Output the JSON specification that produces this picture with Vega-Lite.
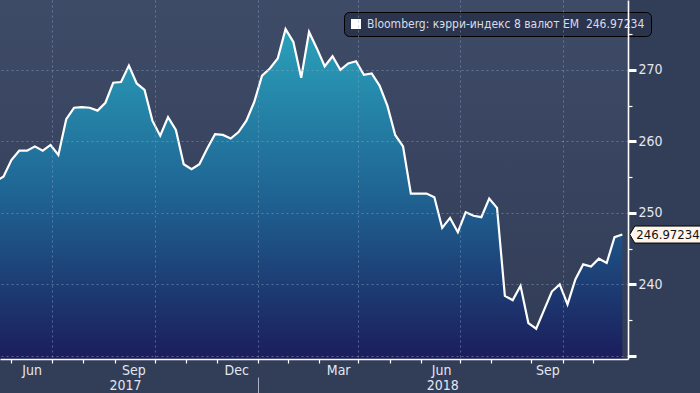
{
  "$schema": "https://vega.github.io/schema/vega-lite/v6.json",
  "width": 628,
  "height": 359,
  "autosize": "none",
  "padding": {"left": 0, "top": 0, "right": 72, "bottom": 34},
  "background": "#323d57",
  "config": {
    "font": "DejaVu Sans Condensed, Liberation Sans, sans-serif",
    "view": {
      "stroke": null,
      "fill": {"gradient": "linear", "x1": 0, "y1": 0, "x2": 0, "y2": 1,
        "stops": [{"offset": 0, "color": "#3e4b67"}, {"offset": 1, "color": "#323c57"}]}
    },
    "axis": {"labelFont": "DejaVu Sans Condensed, Liberation Sans, sans-serif", "labelFontSize": 14, "labelColor": "#e3e7ef", "title": null}
  },
  "datasets": {
    "series": [
      {"date": "2017-05-12", "value": 254.4},
      {"date": "2017-05-19", "value": 255.1},
      {"date": "2017-05-26", "value": 257.4},
      {"date": "2017-06-02", "value": 258.7},
      {"date": "2017-06-09", "value": 258.7},
      {"date": "2017-06-16", "value": 259.3},
      {"date": "2017-06-23", "value": 258.7},
      {"date": "2017-06-30", "value": 259.5},
      {"date": "2017-07-07", "value": 258.1},
      {"date": "2017-07-14", "value": 263.1},
      {"date": "2017-07-21", "value": 264.7},
      {"date": "2017-07-28", "value": 264.8},
      {"date": "2017-08-04", "value": 264.7},
      {"date": "2017-08-11", "value": 264.3},
      {"date": "2017-08-18", "value": 265.4},
      {"date": "2017-08-25", "value": 268.2},
      {"date": "2017-09-01", "value": 268.3},
      {"date": "2017-09-08", "value": 270.6},
      {"date": "2017-09-15", "value": 268.1},
      {"date": "2017-09-22", "value": 267.2},
      {"date": "2017-09-29", "value": 262.9},
      {"date": "2017-10-06", "value": 260.8},
      {"date": "2017-10-13", "value": 263.4},
      {"date": "2017-10-20", "value": 261.6},
      {"date": "2017-10-27", "value": 256.8},
      {"date": "2017-11-03", "value": 256.1},
      {"date": "2017-11-10", "value": 256.8},
      {"date": "2017-11-17", "value": 259.0},
      {"date": "2017-11-24", "value": 261.0},
      {"date": "2017-12-01", "value": 260.9},
      {"date": "2017-12-08", "value": 260.4},
      {"date": "2017-12-15", "value": 261.3},
      {"date": "2017-12-22", "value": 262.9},
      {"date": "2017-12-29", "value": 265.5},
      {"date": "2018-01-05", "value": 269.2},
      {"date": "2018-01-12", "value": 270.2},
      {"date": "2018-01-19", "value": 271.6},
      {"date": "2018-01-26", "value": 275.7},
      {"date": "2018-02-02", "value": 273.9},
      {"date": "2018-02-09", "value": 268.9},
      {"date": "2018-02-16", "value": 275.3},
      {"date": "2018-02-23", "value": 273.0},
      {"date": "2018-03-02", "value": 270.5},
      {"date": "2018-03-09", "value": 271.9},
      {"date": "2018-03-16", "value": 270.0},
      {"date": "2018-03-23", "value": 270.9},
      {"date": "2018-03-30", "value": 271.2},
      {"date": "2018-04-06", "value": 269.3},
      {"date": "2018-04-13", "value": 269.5},
      {"date": "2018-04-20", "value": 267.8},
      {"date": "2018-04-27", "value": 265.0},
      {"date": "2018-05-04", "value": 260.9},
      {"date": "2018-05-11", "value": 259.3},
      {"date": "2018-05-18", "value": 252.7},
      {"date": "2018-05-25", "value": 252.7},
      {"date": "2018-06-01", "value": 252.7},
      {"date": "2018-06-08", "value": 252.2},
      {"date": "2018-06-15", "value": 247.9},
      {"date": "2018-06-22", "value": 249.3},
      {"date": "2018-06-29", "value": 247.3},
      {"date": "2018-07-06", "value": 250.1},
      {"date": "2018-07-13", "value": 249.6},
      {"date": "2018-07-20", "value": 249.4},
      {"date": "2018-07-27", "value": 252.0},
      {"date": "2018-08-03", "value": 250.7},
      {"date": "2018-08-10", "value": 238.4},
      {"date": "2018-08-17", "value": 237.8},
      {"date": "2018-08-24", "value": 239.8},
      {"date": "2018-08-31", "value": 234.6},
      {"date": "2018-09-07", "value": 233.8},
      {"date": "2018-09-14", "value": 236.4},
      {"date": "2018-09-21", "value": 239.0},
      {"date": "2018-09-28", "value": 240.0},
      {"date": "2018-10-05", "value": 237.2},
      {"date": "2018-10-12", "value": 240.7},
      {"date": "2018-10-19", "value": 242.8},
      {"date": "2018-10-26", "value": 242.5},
      {"date": "2018-11-02", "value": 243.6},
      {"date": "2018-11-09", "value": 243.0},
      {"date": "2018-11-16", "value": 246.6},
      {"date": "2018-11-23", "value": 246.97234}
    ],
    "last": [
      {"date": "2018-11-23", "value": 246.97234, "label": "246.97234"}
    ]
  },
  "layer": [
    {
      "data": {"name": "series"},
      "mark": {
        "type": "area", "clip": true,
        "fill": {"gradient": "linear", "x1": 0, "y1": 0, "x2": 0, "y2": 1,
          "stops": [
            {"offset": 0, "color": "#2aa1ba"},
            {"offset": 0.5, "color": "#1f6493"},
            {"offset": 1, "color": "#1b1d5b"}
          ]}
      },
      "encoding": {
        "x": {
          "field": "date", "type": "temporal",
          "scale": {"type": "utc", "domain": [
            {"year": 2017, "month": 5, "date": 15, "hours": 19, "minutes": 40, "utc": true},
            {"year": 2018, "month": 11, "date": 28, "hours": 1, "utc": true}
          ]},
          "axis": {
            "orient": "bottom",
            "values": [
              {"year": 2017, "month": 5, "date": 26, "utc": true},
              {"year": 2017, "month": 7, "date": 1, "utc": true},
              {"year": 2017, "month": 7, "date": 29, "utc": true},
              {"year": 2017, "month": 8, "date": 27, "utc": true},
              {"year": 2017, "month": 10, "date": 1, "utc": true},
              {"year": 2017, "month": 10, "date": 29, "utc": true},
              {"year": 2017, "month": 11, "date": 26, "utc": true},
              {"year": 2018, "month": 1, "date": 1, "utc": true},
              {"year": 2018, "month": 1, "date": 28, "utc": true},
              {"year": 2018, "month": 2, "date": 25, "utc": true},
              {"year": 2018, "month": 4, "date": 1, "utc": true},
              {"year": 2018, "month": 4, "date": 29, "utc": true},
              {"year": 2018, "month": 5, "date": 27, "utc": true},
              {"year": 2018, "month": 7, "date": 1, "utc": true},
              {"year": 2018, "month": 7, "date": 29, "utc": true},
              {"year": 2018, "month": 9, "date": 2, "utc": true},
              {"year": 2018, "month": 10, "date": 1, "utc": true},
              {"year": 2018, "month": 10, "date": 28, "utc": true}
            ],
            "labels": false,
            "ticks": true, "tickSize": 4, "tickColor": "#ffffff", "tickWidth": 1.2,
            "domain": true, "domainColor": "#ffffff", "domainWidth": 1.6,
            "grid": true, "gridColor": "#8fa3c8", "gridDash": [2, 3], "gridWidth": 1,
            "gridOpacity": {"condition": {"test": "utcdate(datum.value) == 1 && utcmonth(datum.value) % 3 == 0", "value": 0.5}, "value": 0},
            "zindex": 1
          }
        },
        "y": {
          "field": "value", "type": "quantitative",
          "scale": {"domain": [229.57, 279.77], "nice": false, "zero": false},
          "axis": {
            "orient": "right",
            "values": [230, 235, 240, 245, 250, 255, 260, 265, 270, 275],
            "domainColor": "#ffffff", "domainWidth": 1.6,
            "tickColor": "#ffffff",
            "tickSize": {"condition": {"test": "datum.value % 10 == 0", "value": 8}, "value": 4},
            "tickWidth": {"condition": {"test": "datum.value % 10 == 0", "value": 3}, "value": 1.2},
            "labelExpr": "datum.value >= 240 && datum.value <= 270 && datum.value % 10 == 0 ? datum.value : ''",
            "labelPadding": 2, "labelBaseline": "middle",
            "grid": true, "gridColor": "#8fa3c8", "gridDash": [2, 3], "gridWidth": 1,
            "gridOpacity": {"condition": {"test": "datum.value % 10 == 0", "value": 0.5}, "value": 0},
            "zindex": 1
          }
        },
        "y2": {"datum": 229.57}
      }
    },
    {
      "data": {"name": "series"},
      "mark": {"type": "line", "clip": true, "strokeWidth": 2.2},
      "encoding": {
        "x": {
          "field": "date", "type": "temporal",
          "axis": {
            "orient": "bottom",
            "values": [
              {"year": 2017, "month": 6, "date": 13, "utc": true},
              {"year": 2017, "month": 9, "date": 12, "utc": true},
              {"year": 2017, "month": 12, "date": 13, "utc": true},
              {"year": 2018, "month": 3, "date": 14, "utc": true},
              {"year": 2018, "month": 6, "date": 14, "utc": true},
              {"year": 2018, "month": 9, "date": 17, "utc": true}
            ],
            "format": "%b",
            "ticks": false, "domain": false, "grid": false,
            "labelPadding": 4
          }
        },
        "y": {"field": "value", "type": "quantitative", "axis": null},
        "color": {
          "datum": "Bloomberg: кэрри-индекс 8 валют EM\u00a0\u00a0246.97234",
          "scale": {"range": ["#ffffff"]},
          "legend": {
            "orient": "none", "legendX": 344, "legendY": 12,
            "title": null,
            "fillColor": "#2b344d", "strokeColor": "#000000", "cornerRadius": 5,
            "padding": 6,
            "symbolType": "square", "symbolSize": 100,
            "symbolFillColor": "#ffffff", "symbolStrokeColor": "#ffffff",
            "labelColor": "#d8dde7", "labelFont": "DejaVu Sans Condensed, Liberation Sans, sans-serif", "labelFontSize": 12,
            "labelLimit": 0, "labelOffset": 5,
            "encode": {"symbols": {"update": {"fill": {"value": "#ffffff"}, "stroke": {"value": "#ffffff"}, "strokeWidth": {"value": 0}}}}
          }
        }
      }
    },
    {
      "data": {"name": "last"},
      "mark": {
        "type": "point", "filled": true, "clip": false,
        "shape": "M0.74,0L1.24,-0.85L9,-0.85L9,0.85L1.24,0.85Z",
        "size": 400, "fill": "#fff5ec", "stroke": "#000000", "strokeWidth": 1, "opacity": 1
      },
      "encoding": {
        "x": {
          "field": "date", "type": "temporal",
          "axis": {
            "orient": "bottom",
            "values": [
              {"year": 2017, "month": 9, "date": 4, "hours": 12, "utc": true},
              {"year": 2018, "month": 1, "date": 1, "utc": true},
              {"year": 2018, "month": 6, "date": 15, "utc": true}
            ],
            "labelExpr": "utcmonth(datum.value) == 0 && utcdate(datum.value) == 1 ? '' : utcFormat(datum.value, '%Y')",
            "domain": false, "grid": false,
            "offset": 18, "ticks": true, "tickSize": 16, "tickColor": "#a9b1c2", "tickWidth": 1,
            "tickOpacity": {"condition": {"test": "utcmonth(datum.value) == 0 && utcdate(datum.value) == 1", "value": 1}, "value": 0},
            "labelPadding": -15
          }
        },
        "y": {"field": "value", "type": "quantitative", "axis": null}
      }
    },
    {
      "data": {"name": "last"},
      "mark": {
        "type": "text", "clip": false, "align": "left", "baseline": "middle", "dx": 14, "dy": 0.5,
        "font": "DejaVu Sans Condensed, Liberation Sans, sans-serif", "fontSize": 13, "color": "#111111"
      },
      "encoding": {
        "x": {"field": "date", "type": "temporal", "axis": null},
        "y": {"field": "value", "type": "quantitative", "axis": null},
        "text": {"field": "label"}
      }
    }
  ],
  "resolve": {"axis": {"x": "independent", "y": "independent"}}
}
